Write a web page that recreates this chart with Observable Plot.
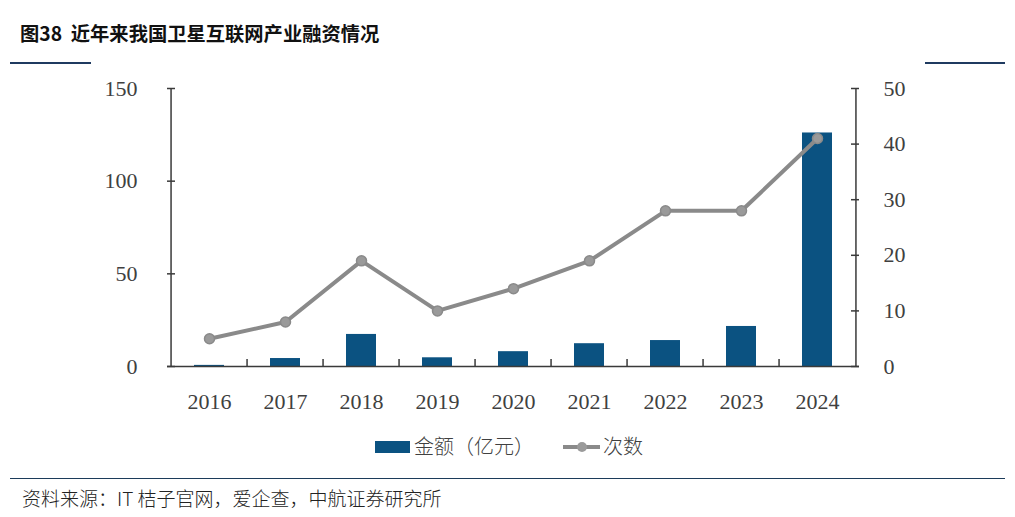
<!DOCTYPE html>
<html><head><meta charset="utf-8">
<script src="https://cdn.jsdelivr.net/npm/d3@7"></script>
<script src="https://cdn.jsdelivr.net/npm/@observablehq/plot@0.6"></script>
<style>
body{margin:0;background:#fff;}
#wrap{position:relative;width:1015px;height:517px;overflow:hidden;background:#fff;}
#title{position:absolute;left:20px;top:20px;font-family:"Noto Sans CJK SC";font-weight:700;font-size:19.3px;line-height:26px;color:#111;white-space:pre;}
.hl{position:absolute;height:1.5px;background:#1f3a60;}
#chart{position:absolute;left:0;top:0;}
#legend{position:absolute;left:0;top:432px;width:1015px;height:28px;font-family:"Noto Sans CJK SC";font-weight:300;font-size:20px;color:#404040;}
#legend .sw{position:absolute;left:375px;top:9px;width:35px;height:12px;background:#0b5281;}
#legend .t1{position:absolute;left:414px;top:0;line-height:28px;white-space:nowrap;}
#legend .ln{position:absolute;left:563px;top:13px;width:37px;height:4px;background:#8a8a8a;}
#legend .dt{position:absolute;left:577px;top:10px;width:10px;height:10px;border-radius:50%;background:#9a9a9a;}
#legend .t2{position:absolute;left:603px;top:0;line-height:28px;white-space:nowrap;}
#source{position:absolute;left:22px;top:485px;font-family:"Noto Sans CJK SC";font-weight:300;font-size:19px;line-height:26px;color:#222;white-space:pre;}
</style></head><body>
<div id="wrap">
  <div id="title">图38  近年来我国卫星互联网产业融资情况</div>
  <div class="hl" style="left:10px;top:62px;width:81px"></div>
  <div class="hl" style="left:925px;top:62px;width:80px"></div>
  <div id="chart"></div>
  <div id="legend"><div class="sw"></div><div class="t1">金额（亿元）</div><div class="ln"></div><div class="dt"></div><div class="t2">次数</div></div>
  <div class="hl" style="left:10px;top:478px;width:995px;height:1px;background:#1c3b5a"></div>
  <div id="source">资料来源：IT 桔子官网，爱企查，中航证券研究所</div>
</div>
<script>
const years = ["2016","2017","2018","2019","2020","2021","2022","2023","2024"];
const amounts = [0.6, 4.3, 17.3, 4.7, 8, 12.3, 14, 21.6, 126];
const counts = [5, 8, 19, 10, 14, 19, 28, 28, 41];
const leftTicks = [0, 50, 100, 150];
const rightTicks = [0, 10, 20, 30, 40, 50];
const leftMax = 150, rightMax = 50;
const ratio = leftMax / rightMax;

const data = years.map((y, i) => ({year: y, amount: amounts[i], count: counts[i]}));

const W = 1015, H = 420, mL = 167, mR = 156, mT = 88, mB = 54;
const pw = W - mL - mR, ph = H - mT - mB;
const step = pw / years.length;
const tickLen = 8;
const axisColor = "#3a3a3a";

const chart = Plot.plot({
  width: W, height: H,
  marginLeft: mL, marginRight: mR, marginTop: mT, marginBottom: mB,
  style: {fontFamily: "Liberation Serif", fontSize: "22px", color: "#404040", background: "transparent"},
  x: {domain: years, paddingInner: 0.6, paddingOuter: 0.3, label: null},
  y: {domain: [0, leftMax], label: null},
  marks: [
    Plot.barY(data, {x: "year", y: "amount", fill: "#0b5281"}),
    Plot.ruleY([0], {stroke: axisColor, strokeWidth: 1.5}),
    Plot.ruleX([years[0]], {dx: -step / 2, stroke: axisColor, strokeWidth: 1.5}),
    Plot.ruleX([years[years.length - 1]], {dx: step / 2, stroke: axisColor, strokeWidth: 1.5}),
    Plot.ruleX(years.slice(1), {dx: -step / 2, insetTop: ph - 7, stroke: axisColor, strokeWidth: 1.5}),
    Plot.ruleY(leftTicks, {insetRight: pw - tickLen, stroke: axisColor, strokeWidth: 1.5}),
    Plot.ruleY(rightTicks.map(d => d * ratio), {insetLeft: pw - tickLen, stroke: axisColor, strokeWidth: 1.5}),
    Plot.line(data, {x: "year", y: d => d.count * ratio, stroke: "#8a8a8a", strokeWidth: 4}),
    Plot.dot(data, {x: "year", y: d => d.count * ratio, r: 5, fill: "#9a9a9a", stroke: "#8a8a8a", strokeWidth: 1.5}),
    Plot.axisX({tickSize: 0, tickPadding: 27, fontSize: 22, fill: "#404040"}),
    Plot.axisY({anchor: "left", ticks: leftTicks, tickSize: 0, tickPadding: 30, fontSize: 22, fill: "#404040"}),
    Plot.axisY({anchor: "right", ticks: rightTicks.map(d => d * ratio), tickFormat: d => String(Math.round(d / ratio)), tickSize: 0, tickPadding: 24, fontSize: 22, fill: "#404040"})
  ]
});
document.getElementById("chart").appendChild(chart);
</script>
</body></html>
